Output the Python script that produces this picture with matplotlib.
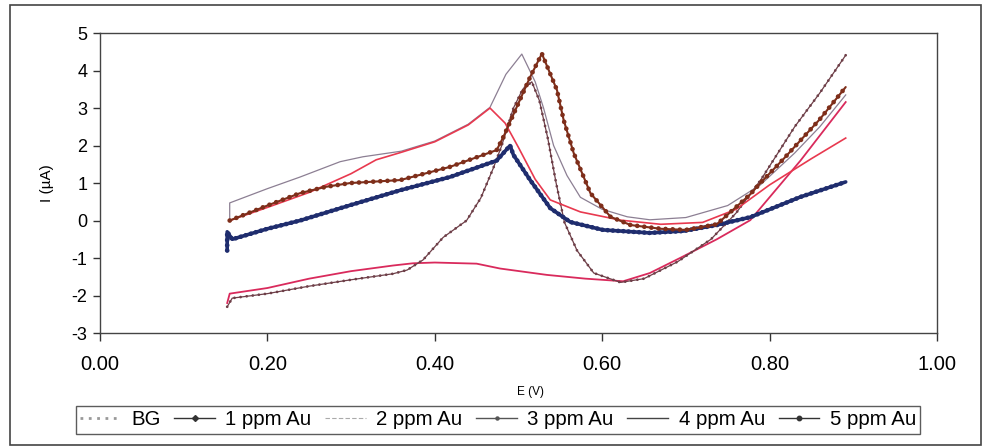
import matplotlib
matplotlib.use("Agg")
import matplotlib.pyplot as plt
from matplotlib.lines import Line2D
from matplotlib.patches import Rectangle

plt.rcParams["font.family"] = ["Liberation Sans", "DejaVu Sans"]
plt.rcParams["axes.unicode_minus"] = False

# cyclic scans: potential E (V) and current I (uA) for each solution
e_bg = [0.152, 0.155, 0.20, 0.25, 0.30, 0.35, 0.374, 0.40, 0.45, 0.478, 0.534, 0.58, 0.606,
        0.625, 0.657, 0.693, 0.737, 0.777, 0.837, 0.891]
i_bg = [-2.2, -1.95, -1.8, -1.55, -1.35, -1.2, -1.14, -1.12, -1.15, -1.28, -1.45, -1.55, -1.59,
        -1.62, -1.4, -1.0, -0.5, 0.01, 1.6, 3.16]

e_1ppm = [0.152, 0.152, 0.158, 0.20, 0.239, 0.299, 0.359, 0.418, 0.474, 0.49, 0.494, 0.514,
          0.538, 0.562, 0.601, 0.657, 0.697, 0.737, 0.777, 0.837, 0.891]
i_1ppm = [-0.8, -0.3, -0.5, -0.22, 0.0, 0.41, 0.81, 1.16, 1.6, 2.0, 1.75, 1.08,
          0.33, -0.04, -0.25, -0.33, -0.28, -0.12, 0.09, 0.63, 1.03]

e_2ppm = [0.155, 0.20, 0.25, 0.30, 0.33, 0.36, 0.40, 0.44, 0.466, 0.484, 0.50, 0.52, 0.538,
          0.574, 0.622, 0.67, 0.72, 0.76, 0.80, 0.85, 0.891]
i_2ppm = [0.0, 0.35, 0.75, 1.25, 1.62, 1.82, 2.1, 2.55, 3.0, 2.6, 1.95, 1.1, 0.55,
          0.23, 0.01, -0.1, -0.05, 0.3, 0.95, 1.65, 2.2]

e_3ppm = [0.152, 0.158, 0.20, 0.25, 0.30, 0.35, 0.367, 0.386, 0.41, 0.438, 0.455, 0.47, 0.48,
          0.494, 0.505, 0.516, 0.525, 0.535, 0.545, 0.555, 0.57, 0.59, 0.622, 0.65, 0.69,
          0.73, 0.76, 0.79, 0.83, 0.86, 0.891]
i_3ppm = [-2.3, -2.07, -1.95, -1.75, -1.58, -1.42, -1.32, -1.05, -0.45, 0.0, 0.6, 1.4, 2.0,
          3.0, 3.5, 3.7, 3.2, 2.2, 1.0, -0.05, -0.8, -1.4, -1.65, -1.55, -1.1,
          -0.5, 0.2, 1.1, 2.5, 3.4, 4.41]

e_4ppm = [0.155, 0.155, 0.20, 0.239, 0.287, 0.314, 0.36, 0.40, 0.44, 0.466, 0.485, 0.504,
          0.52, 0.53, 0.542, 0.558, 0.574, 0.60, 0.63, 0.657, 0.70, 0.75, 0.789, 0.83, 0.86, 0.891]
i_4ppm = [0.0, 0.47, 0.85, 1.16, 1.57, 1.7, 1.85, 2.12, 2.57, 3.02, 3.9, 4.44,
          3.7, 3.0, 2.0, 1.2, 0.62, 0.3, 0.1, 0.02, 0.08, 0.4, 0.95, 1.8, 2.5, 3.35]

e_5ppm = [0.155, 0.20, 0.239, 0.27, 0.299, 0.359, 0.418, 0.474, 0.482, 0.498, 0.514, 0.528,
          0.546, 0.554, 0.566, 0.586, 0.61, 0.634, 0.67, 0.70, 0.737, 0.777, 0.789, 0.817,
          0.86, 0.891]
i_5ppm = [0.0, 0.4, 0.73, 0.9, 1.0, 1.08, 1.43, 1.88, 2.23, 3.03, 3.83, 4.45,
          3.48, 2.68, 1.8, 0.73, 0.1, -0.12, -0.22, -0.25, -0.1, 0.7, 1.0, 1.65,
          2.7, 3.56]

labels = ["BG", "1 ppm Au", "2 ppm Au", "3 ppm Au", "4 ppm Au", "5 ppm Au"]
x_ticks = [0.0, 0.2, 0.4, 0.6, 0.8, 1.0]
y_ticks = [-3, -2, -1, 0, 1, 2, 3, 4, 5]


def dotted_trace(ax, e, i, color, lw_line, lw_dot, gap):
    """Thin line with round dots along it, like an Excel marker series."""
    ax.plot(e, i, color=color, lw=lw_line, solid_capstyle="round")
    ax.plot(e, i, color=color, lw=lw_dot, ls=(0, (0.01, gap)), dash_capstyle="round")


fig = plt.figure(figsize=(9.85, 4.47), dpi=100)
ax = fig.add_axes([0.1015, 0.255, 0.8497, 0.671])

ax.plot(e_bg, i_bg, color="#d92a5c", lw=1.3)
dotted_trace(ax, e_3ppm, i_3ppm, "#6e3f48", 0.9, 2.0, 2.2)
ax.plot(e_4ppm, i_4ppm, color="#8c7f93", lw=0.9)
ax.plot(e_2ppm, i_2ppm, color="#e8394f", lw=1.2)
dotted_trace(ax, e_1ppm, i_1ppm, "#1f2d6e", 2.6, 3.4, 1.1)
dotted_trace(ax, e_5ppm, i_5ppm, "#7e2e1a", 1.5, 3.4, 1.5)

ax.set_xlim(0, 1.0)
ax.set_ylim(-3, 5)
ax.set_xticks(x_ticks)
ax.set_xticklabels([f"{v:.2f}" for v in x_ticks])
ax.set_yticks(y_ticks)
ax.tick_params(axis="x", direction="out", length=6, width=1, labelsize=14.5, pad=10, colors="#333",
               labelcolor="black")
ax.tick_params(axis="y", direction="out", length=5, width=1, labelsize=13, pad=4, colors="#333",
               labelcolor="black")
for sp in ax.spines.values():
    sp.set_color("#444")
    sp.set_linewidth(1.0)

ax.set_xlabel("E (V)", fontsize=8.5)
ax.xaxis.set_label_coords(0.514, -0.178)
ax.set_ylabel("I (µA)", fontsize=11)
ax.yaxis.set_label_coords(-0.055, 0.5)

# legend keys drawn in the grey tones of the printed key
handles = [
    Line2D([], [], color="#999999", lw=2.0, ls=(0, (1, 2))),
    Line2D([], [], color="#333333", lw=1.0, marker="D", ms=3),
    Line2D([], [], color="#aaaaaa", lw=0.8, ls=(0, (4, 2))),
    Line2D([], [], color="#555555", lw=1.0, marker="o", ms=2.2),
    Line2D([], [], color="#444444", lw=1.0),
    Line2D([], [], color="#333333", lw=1.0, marker="o", ms=3.2),
]
leg = fig.legend(handles, labels, loc="center", bbox_to_anchor=(0.5055, 0.0605), ncol=6,
                 fontsize=14.7, frameon=True, fancybox=False, handlelength=2.0,
                 handletextpad=0.5, columnspacing=0.68, borderpad=0.2, borderaxespad=0)
leg.get_frame().set_edgecolor("#333")
leg.get_frame().set_linewidth(1.0)

# chart area border
fig.patches.append(Rectangle((10 / 985, 2 / 447), 971 / 985, 440 / 447, transform=fig.transFigure,
                             fill=False, edgecolor="#444", lw=1.2))

fig.savefig("out.png", dpi=100)
